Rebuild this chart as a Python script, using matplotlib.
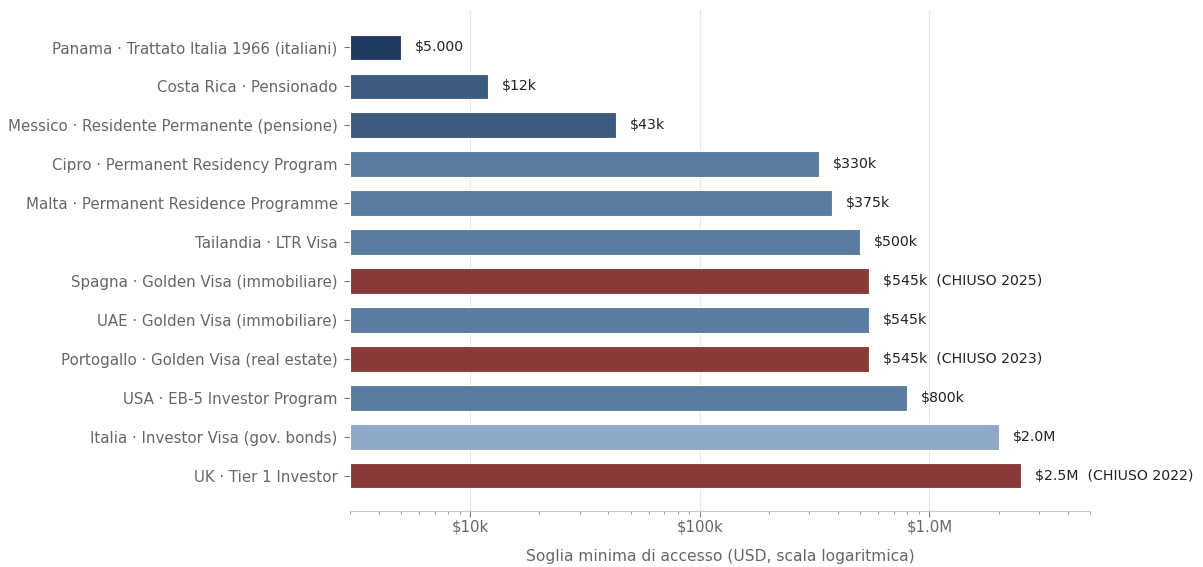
import matplotlib.pyplot as plt
from matplotlib.ticker import FixedLocator, FixedFormatter, LogLocator, NullFormatter

# programmes, top to bottom
labels = [
    "Panama · Trattato Italia 1966 (italiani)",
    "Costa Rica · Pensionado",
    "Messico · Residente Permanente (pensione)",
    "Cipro · Permanent Residency Program",
    "Malta · Permanent Residence Programme",
    "Tailandia · LTR Visa",
    "Spagna · Golden Visa (immobiliare)",
    "UAE · Golden Visa (immobiliare)",
    "Portogallo · Golden Visa (real estate)",
    "USA · EB-5 Investor Program",
    "Italia · Investor Visa (gov. bonds)",
    "UK · Tier 1 Investor",
]
values = [5000, 12000, 43000, 330000, 375000, 500000,
          545000, 545000, 545000, 800000, 2000000, 2500000]
value_text = ["$5.000", "$12k", "$43k", "$330k", "$375k", "$500k",
              "$545k  (CHIUSO 2025)", "$545k", "$545k  (CHIUSO 2023)",
              "$800k", "$2.0M", "$2.5M  (CHIUSO 2022)"]
groups = ["panama", "latam", "latam", "std", "std", "std",
          "closed", "std", "closed", "std", "italia", "closed"]

palette = {
    "panama": "#1f3a5f",
    "latam": "#3d5a80",
    "std": "#5a7ca0",
    "italia": "#8fa8c8",
    "closed": "#8b3a3a",
}

x_min, x_max = 3000, 5e6

fig = plt.figure(figsize=(12.03, 5.67), dpi=100)
ax = fig.add_axes([0.291, 0.099, 0.615, 0.883])

ypos = list(range(len(labels)))
ax.barh(ypos, [v - x_min for v in values], left=x_min, height=0.65,
        color=[palette[g] for g in groups], edgecolor="white",
        linewidth=0.8, zorder=3)

# value labels right of each bar
for y, v, t in zip(ypos, values, value_text):
    ax.text(v * 1.15, y, t, va="center", ha="left", fontsize=10.2,
            color="#222222", zorder=4)

ax.set_xscale("log")
ax.set_xlim(x_min, x_max)
ax.set_ylim(len(labels) - 0.1, -0.95)

ax.xaxis.set_major_locator(FixedLocator([1e4, 1e5, 1e6]))
ax.xaxis.set_major_formatter(FixedFormatter(["$10k", "$100k", "$1.0M"]))
ax.xaxis.set_minor_locator(LogLocator(base=10, subs=range(2, 10)))
ax.xaxis.set_minor_formatter(NullFormatter())

ax.set_yticks(ypos)
ax.set_yticklabels(labels)

ax.tick_params(axis="y", labelsize=10.8, labelcolor="#666666",
               color="#777777", length=4, pad=5)
ax.tick_params(axis="x", which="major", labelsize=10.8,
               labelcolor="#666666", color="#888888", length=4, pad=2)
ax.tick_params(axis="x", which="minor", color="#888888", length=2.5)

ax.grid(axis="x", which="major", color="#e6e6e6", linewidth=0.8, zorder=0)
ax.set_axisbelow(True)

for side in ["top", "right", "left"]:
    ax.spines[side].set_visible(False)
ax.spines["bottom"].set_color("#cccccc")
ax.spines["bottom"].set_linewidth(0.8)

ax.set_xlabel("Soglia minima di accesso (USD, scala logaritmica)",
              fontsize=11.2, color="#666666", labelpad=11)

fig.savefig("out.png", dpi=100)
